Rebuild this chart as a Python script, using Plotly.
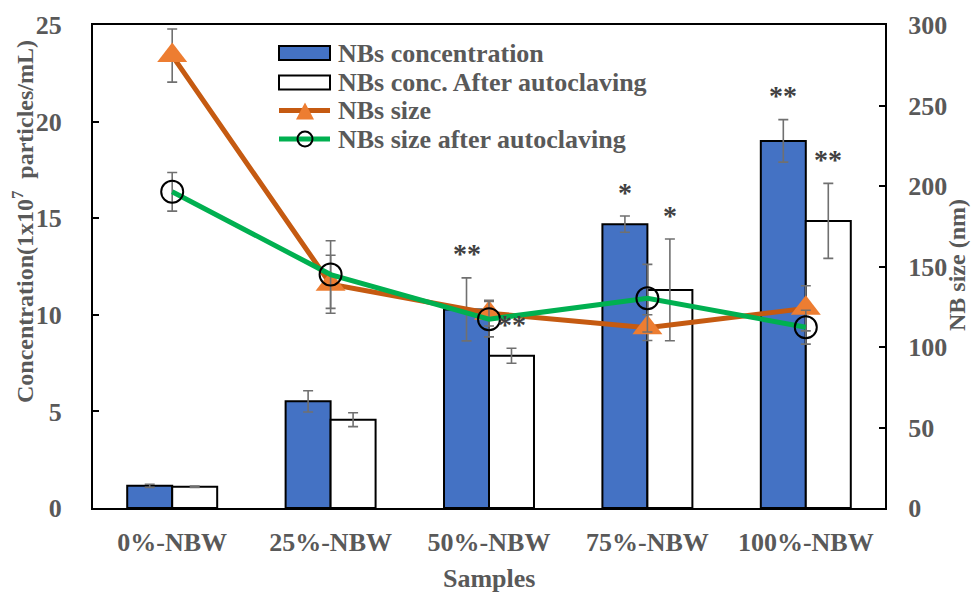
import plotly.graph_objects as go

samples = ["0%-NBW", "25%-NBW", "50%-NBW", "75%-NBW", "100%-NBW"]

conc = [1.15, 5.52, 10.28, 14.69, 19.0]
conc_err = [0.08, 0.55, 1.63, 0.42, 1.1]
conc_after = [1.1, 4.57, 7.88, 11.29, 14.86]
conc_after_err = [0.03, 0.36, 0.39, 2.63, 1.94]

size = [281, 139, 121, 112, 124]
size_err = [16.5, 18, 8, 8, 14]
size_after = [196.4, 145, 117.3, 130.3, 112.3]
size_after_err = [12, 21, 11, 21, 10.5]

stars_conc = ["", "", "**", "*", "**"]
stars_after = ["", "", "**", "*", "**"]

legend_names = ["NBs concentration", "NBs conc. After autoclaving",
                "NBs size", "NBs size after autoclaving"]

FONT = "Liberation Serif"
TXT = "#595959"
ERR = "#707070"
BLUE = "#4472C4"
ORANGE_LINE = "#C55A11"
ORANGE_MARK = "#ED7D31"
GREEN = "#00B050"

W, H = 980, 597
ML, MR, MT, MB = 93, 95, 25, 89
PW, PH = W - ML - MR, H - MT - MB


def px(x):
    return (x - ML) / PW


def py(y):
    return (H - MB - y) / PH


fig = go.Figure()
fig.add_trace(go.Bar(
    x=samples, y=conc, name=legend_names[0],
    marker=dict(color=BLUE, line=dict(color="black", width=2)),
    error_y=dict(type="data", array=conc_err, color=ERR, thickness=1.6, width=5),
))
fig.add_trace(go.Bar(
    x=samples, y=conc_after, name=legend_names[1],
    marker=dict(color="white", line=dict(color="black", width=2)),
    error_y=dict(type="data", array=conc_after_err, color=ERR, thickness=1.6, width=5),
))
fig.add_trace(go.Scatter(
    x=samples, y=size, name=legend_names[2], yaxis="y2", mode="lines+markers",
    line=dict(color=ORANGE_LINE, width=5),
    marker=dict(symbol="triangle-up", size=26, color=ORANGE_MARK),
    error_y=dict(type="data", array=size_err, color=ERR, thickness=1.6, width=5),
))
fig.add_trace(go.Scatter(
    x=samples, y=size_after, name=legend_names[3], yaxis="y2",
    mode="lines+markers",
    line=dict(color=GREEN, width=5),
    marker=dict(symbol="circle-open", size=22, color="black", line=dict(width=2)),
    error_y=dict(type="data", array=size_after_err, color=ERR, thickness=1.6, width=5),
))

annotations = []
pad = 1.4
star_font = dict(family=FONT, size=28, color="#404040")
for i, s in enumerate(samples):
    if stars_conc[i]:
        annotations.append(dict(x=s, y=conc[i] + conc_err[i] + pad, xref="x", yref="y",
                                text=stars_conc[i], showarrow=False, xshift=-22.5, yshift=-3,
                                font=star_font))
    if stars_after[i]:
        annotations.append(dict(x=s, y=conc_after[i] + conc_after_err[i] + pad, xref="x", yref="y",
                                text=stars_after[i], showarrow=False, xshift=22.5, yshift=-3,
                                font=star_font))

rot_font = dict(family=FONT, size=24, color=TXT, weight="bold")
annotations.append(dict(x=px(23), y=py(222), xref="paper", yref="paper",
                        xanchor="center", yanchor="middle",
                        text="Concentration(1x10<sup>7</sup>  particles/mL)", textangle=-90,
                        showarrow=False, font=rot_font))
annotations.append(dict(x=px(957), y=py(265), xref="paper", yref="paper",
                        xanchor="center", yanchor="middle",
                        text="NB size (nm)", textangle=-90,
                        showarrow=False, font=rot_font))
annotations.append(dict(x=0.5, y=py(578), xref="paper", yref="paper",
                        xanchor="center", yanchor="middle",
                        text="Samples", showarrow=False,
                        font=dict(family=FONT, size=26, color=TXT, weight="bold")))

# legend (drawn manually to match the wide Excel-style symbols)
rows = [53, 82.5, 110.5, 139]
for name, ry in zip(legend_names, rows):
    annotations.append(dict(x=px(336), y=py(ry), xref="paper", yref="paper",
                            xanchor="left", yanchor="middle", text=name, showarrow=False,
                            font=dict(family=FONT, size=26, color=TXT, weight="bold")))

shapes = []
sx0, sx1, sxc = 279, 330, 305
for ry, fill in zip(rows[:2], [BLUE, "white"]):
    shapes.append(dict(type="rect", xref="paper", yref="paper",
                       x0=px(sx0), x1=px(sx1), y0=py(ry - 7), y1=py(ry + 7),
                       fillcolor=fill, line=dict(color="black", width=2)))
shapes.append(dict(type="line", xref="paper", yref="paper",
                   x0=px(sx0), x1=px(sx1), y0=py(rows[2]), y1=py(rows[2]),
                   line=dict(color=ORANGE_LINE, width=5)))
shapes.append(dict(type="path", xref="paper", yref="paper",
                   path=f"M {px(sxc - 9)},{py(rows[2] + 9)} L {px(sxc + 9)},{py(rows[2] + 9)} "
                        f"L {px(sxc)},{py(rows[2] - 8)} Z",
                   fillcolor=ORANGE_MARK, line=dict(width=0)))
shapes.append(dict(type="line", xref="paper", yref="paper",
                   x0=px(sx0), x1=px(sx1), y0=py(rows[3]), y1=py(rows[3]),
                   line=dict(color=GREEN, width=5)))
shapes.append(dict(type="circle", xref="paper", yref="paper",
                   x0=px(sxc - 7.5), x1=px(sxc + 7.5), y0=py(rows[3] - 7.5), y1=py(rows[3] + 7.5),
                   fillcolor="rgba(0,0,0,0)", line=dict(color="black", width=2)))

fig.update_layout(
    width=W, height=H,
    margin=dict(l=ML, r=MR, t=MT, b=MB),
    paper_bgcolor="white", plot_bgcolor="white",
    font=dict(family=FONT, size=26, color=TXT, weight="bold"),
    barmode="group", bargap=0.432, bargroupgap=0,
    showlegend=False,
    xaxis=dict(showline=True, linecolor="black", linewidth=2, mirror=True,
               ticks="", showgrid=False, ticklabelstandoff=10),
    yaxis=dict(range=[0, 25], dtick=5, showline=True, linecolor="black", linewidth=2,
               ticks="inside", ticklen=6, tickwidth=2, tickcolor="black",
               showgrid=False, zeroline=False, ticklabelstandoff=24),
    yaxis2=dict(range=[0, 300], dtick=50, overlaying="y", side="right",
                showline=True, linecolor="black", linewidth=2,
                ticks="inside", ticklen=6, tickwidth=2, tickcolor="black",
                showgrid=False, zeroline=False, ticklabelstandoff=16),
    annotations=annotations,
    shapes=shapes,
)

fig.write_html("out.html")
